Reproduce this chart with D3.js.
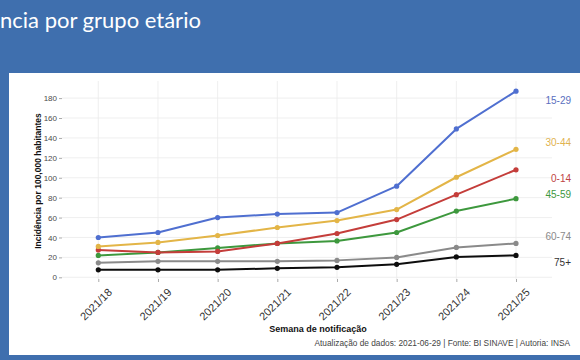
<!DOCTYPE html>
<html>
<head>
<meta charset="utf-8">
<script src="https://cdn.jsdelivr.net/npm/d3@7"></script>
<style>
  html, body { margin: 0; padding: 0; background: #3f6fae; }
  svg { display: block; }
</style>
</head>
<body>
<svg id="chart" width="580" height="360"></svg>
<script>
// ---- data ----
const weeks = ["2021/18","2021/19","2021/20","2021/21","2021/22","2021/23","2021/24","2021/25"];
const groups = ["15-29","30-44","0-14","45-59","60-74","75+"];
const v15_29 = [40, 45, 60, 63.5, 65, 91.5, 149, 187];
const v30_44 = [31, 35, 42, 50, 57, 68, 100.5, 128.5];
const v0_14  = [27.5, 25, 26, 34, 44, 58, 83, 108];
const v45_59 = [22, 25, 29.5, 34, 36.5, 45, 66.5, 79];
const v60_74 = [14.5, 16, 16, 16, 17, 20, 30, 34];
const v75    = [7.5, 7.5, 7.5, 9, 10, 13, 20.5, 22];
const labelAt = [178, 135, 99, 83, 41, 15];
const yTicks = [0, 20, 40, 60, 80, 100, 120, 140, 160, 180];
const colors = ["#4f6fd0", "#e3b547", "#c43d3a", "#3d983d", "#8a8a8a", "#0d0d0d"];
const labelColors = ["#5a6fc0", "#dfb350", "#c04444", "#3d983d", "#8a8a8a", "#333333"];
const seriesValues = [v15_29, v30_44, v0_14, v45_59, v60_74, v75];

const title = "ncia por grupo etário";
const yTitle = "Incidência por 100,000 habitantes";
const xTitle = "Semana de notificação";
const caption = "Atualização de dados: 2021-06-29 | Fonte: BI SINAVE | Autoria: INSA";

// ---- drawing ----
const svg = d3.select("#chart");
const font = "'Liberation Sans', Arial, sans-serif";

svg.append("rect").attr("x", 0).attr("y", 0).attr("width", 580).attr("height", 360).attr("fill", "#3f6fae");
svg.append("text").attr("x", 0).attr("y", 28).attr("fill", "#ffffff")
  .attr("font-family", "Lato, 'Open Sans', sans-serif").attr("font-size", 22).text(title);
svg.append("rect").attr("x", 9).attr("y", 73).attr("width", 571).attr("height", 282).attr("fill", "#ffffff");

const x = d3.scalePoint().domain(weeks).range([98.3, 516]);
const y = d3.scaleLinear().domain([0, 180]).range([277.3, 98.1]);
const panel = { left: 62, right: 552, top: 81, bottom: 279 };

const g = svg.append("g");
// grid
g.selectAll("line.hg").data(yTicks).join("line")
  .attr("x1", panel.left).attr("x2", panel.right)
  .attr("y1", d => y(d)).attr("y2", d => y(d))
  .attr("stroke", "#ebebeb").attr("stroke-width", 0.8);
g.selectAll("line.vg").data(weeks).join("line")
  .attr("x1", d => x(d)).attr("x2", d => x(d))
  .attr("y1", panel.top).attr("y2", panel.bottom)
  .attr("stroke", "#ebebeb").attr("stroke-width", 0.8);

// y axis
const yAxis = d3.axisLeft(y).tickValues(yTicks).tickSize(3).tickPadding(2);
const ya = svg.append("g").attr("transform", `translate(${panel.left},0)`).call(yAxis);
ya.select(".domain").remove();
ya.selectAll(".tick line").attr("stroke", "#aaaaaa");
ya.selectAll(".tick text").attr("fill", "#4a4a4a").attr("font-size", 8).attr("font-family", font);

// x axis
const xAxis = d3.axisBottom(x).tickSize(3).tickPadding(2);
const xa = svg.append("g").attr("transform", `translate(0,${panel.bottom})`).call(xAxis);
xa.select(".domain").remove();
xa.selectAll(".tick line").attr("stroke", "#aaaaaa");
xa.selectAll(".tick text").attr("fill", "#333").attr("font-size", 11).attr("font-family", font)
  .attr("text-anchor", "end").attr("dy", "0.7em")
  .attr("transform", "translate(5,5) rotate(-45)");

// lines
const line = d3.line().x((d, i) => x(weeks[i])).y(d => y(d));
const order = [4, 5, 3, 2, 1, 0];
order.forEach(k => {
  const vals = seriesValues[k];
  svg.append("path").datum(vals).attr("d", line).attr("fill", "none")
    .attr("stroke", colors[k]).attr("stroke-width", 2).attr("stroke-linejoin", "round");
  svg.selectAll(null).data(vals).join("circle")
    .attr("cx", (d, i) => x(weeks[i])).attr("cy", d => y(d)).attr("r", 2.6)
    .attr("fill", colors[k]);
});

// group labels
svg.selectAll("text.grp").data(groups).join("text")
  .attr("x", 571).attr("y", (d, i) => y(labelAt[i])).attr("dy", "0.35em")
  .attr("text-anchor", "end").attr("font-family", font).attr("font-size", 10)
  .attr("fill", (d, i) => labelColors[i]).text(d => d);

// titles
svg.append("text").attr("transform", `translate(41,181) rotate(-90)`)
  .attr("text-anchor", "middle").attr("font-family", font).attr("font-size", 8.5)
  .attr("font-weight", "bold").attr("fill", "#111").text(yTitle);
svg.append("text").attr("x", 318).attr("y", 332)
  .attr("text-anchor", "middle").attr("font-family", font).attr("font-size", 9)
  .attr("font-weight", "bold").attr("fill", "#111").text(xTitle);
svg.append("text").attr("x", 570).attr("y", 346)
  .attr("text-anchor", "end").attr("font-family", font).attr("font-size", 8.3)
  .attr("fill", "#444").text(caption);
</script>
</body>
</html>
